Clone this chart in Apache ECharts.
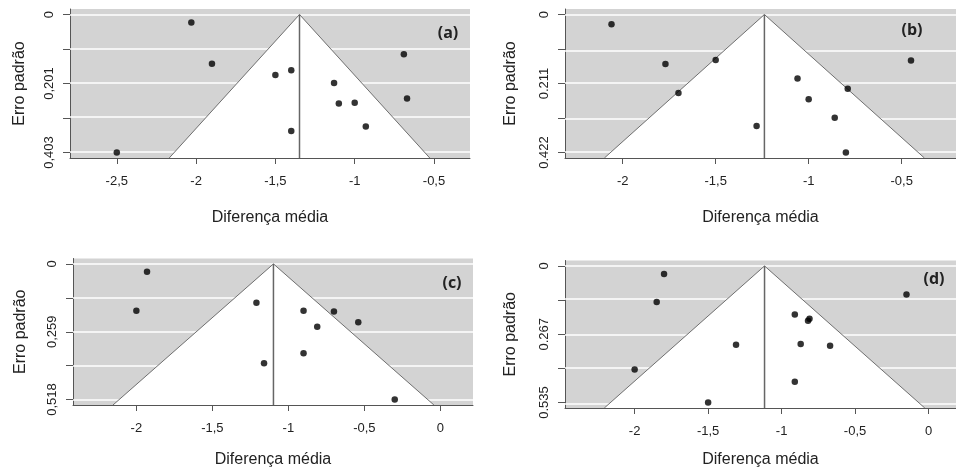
<!DOCTYPE html>
<html>
<head>
<meta charset="utf-8">
<script src="https://cdn.jsdelivr.net/npm/echarts@6/dist/echarts.min.js"></script>
<style>
  html, body { margin: 0; padding: 0; background: #fff; }
  #chart { width: 956px; height: 469px; }
</style>
</head>
<body>
<div id="chart"></div>
<script>
// painel (a)
var xA = [-2.03, -1.90, -1.50, -1.40, -1.13, -0.69, -0.67, -1.10, -1.00, -0.93, -1.40, -2.50]
var seA = [0.023, 0.144, 0.177, 0.163, 0.200, 0.116, 0.245, 0.260, 0.258, 0.327, 0.340, 0.403]
var estA = -1.348
// painel (b)
var xB = [-2.06, -1.77, -1.50, -1.70, -1.28, -1.06, -0.79, -1.00, -0.86, -0.80, -0.45]
var seB = [0.030, 0.151, 0.139, 0.240, 0.341, 0.196, 0.227, 0.259, 0.316, 0.422, 0.141]
var estB = -1.238
// painel (c)
var xC = [-1.93, -2.00, -1.21, -0.90, -0.70, -0.54, -0.81, -0.90, -1.16, -0.30]
var seC = [0.030, 0.179, 0.148, 0.179, 0.182, 0.223, 0.240, 0.341, 0.379, 0.518]
var estC = -1.098
// painel (d)
var xD = [-1.80, -1.85, -0.15, -0.91, -0.81, -0.82, -1.31, -0.87, -0.67, -2.00, -0.91, -1.50]
var seD = [0.031, 0.141, 0.112, 0.190, 0.207, 0.215, 0.309, 0.306, 0.313, 0.406, 0.454, 0.535]
var estD = -1.116

// ticks
var yTicksA = [0, 0.10075, 0.2015, 0.30225, 0.403]
var yLabelsA = ['0', '0,201', '0,403']
var yTicksB = [0, 0.1055, 0.211, 0.3165, 0.422]
var yLabelsB = ['0', '0.211', '0.422']
var yTicksC = [0, 0.1295, 0.259, 0.3885, 0.518]
var yLabelsC = ['0', '0,259', '0,518']
var yTicksD = [0, 0.13375, 0.2675, 0.40125, 0.535]
var yLabelsD = ['0', '0.267', '0.535']
var xTicksA = [-2.5, -2, -1.5, -1, -0.5]
var xTicksB = [-2, -1.5, -1, -0.5]
var xTicksC = [-2, -1.5, -1, -0.5, 0]
var xTicksD = [-2, -1.5, -1, -0.5, 0]
var panelNames = ['(a)', '(b)', '(c)', '(d)']

var panels = [
  {x: xA, se: seA, est: estA, yTicks: yTicksA, yLabels: yLabelsA, xTicks: xTicksA,
    grid: {left: 70, top: 9, width: 400, height: 149}, xr: [-2.795, -0.273], yr: [-0.0161, 0.4191],
    xGap: 52, yGap: 42, tag: [448, 33]},
  {x: xB, se: seB, est: estB, yTicks: yTicksB, yLabels: yLabelsB, xTicks: xTicksB,
    grid: {left: 565, top: 9, width: 391, height: 149}, xr: [-2.310, -0.208], yr: [-0.0169, 0.4389],
    xGap: 52, yGap: 46, tag: [912, 30]},
  {x: xC, se: seC, est: estC, yTicks: yTicksC, yLabels: yLabelsC, xTicks: xTicksC,
    grid: {left: 73, top: 258.5, width: 400, height: 149}, xr: [-2.417, 0.215], yr: [-0.0207, 0.5387],
    xGap: 47, yGap: 44, tag: [452, 283]},
  {x: xD, se: seD, est: estD, yTicks: yTicksD, yLabels: yLabelsD, xTicks: xTicksD,
    grid: {left: 565, top: 260.5, width: 391, height: 149}, xr: [-2.474, 0.187], yr: [-0.0214, 0.5564],
    xGap: 44, yGap: 46, tag: [934, 279]}
]

var FONT = '"Liberation Sans", Arial, sans-serif'
var grids = [], xAxes = [], yAxes = [], series = [], graphics = []

function fmtComma (v) {
  return String(v).replace('.', ',')
}

panels.forEach(function (p, i) {
  grids.push({
    left: p.grid.left, top: p.grid.top, width: p.grid.width, height: p.grid.height,
    show: true, backgroundColor: '#d3d3d3', borderWidth: 0
  })
  xAxes.push({
    type: 'value', gridIndex: i, min: p.xr[0], max: p.xr[1],
    name: 'Diferença média', nameLocation: 'middle', nameGap: p.xGap,
    nameTextStyle: {fontFamily: FONT, fontSize: 16, color: '#222'},
    axisLine: {onZero: false, lineStyle: {color: '#555', width: 1}},
    axisTick: {show: true, length: 6, lineStyle: {color: '#555'}, customValues: p.xTicks},
    axisLabel: {customValues: p.xTicks, margin: 17, fontFamily: FONT, fontSize: 13, color: '#222', formatter: fmtComma},
    splitLine: {show: false}
  })
  var labelVals = [p.yTicks[0], p.yTicks[2], p.yTicks[4]]
  yAxes.push({
    type: 'value', gridIndex: i, inverse: true, min: p.yr[0], max: p.yr[1],
    name: 'Erro padrão', nameLocation: 'middle', nameGap: p.yGap,
    nameTextStyle: {fontFamily: FONT, fontSize: 16, color: '#222'},
    axisLine: {show: true, onZero: false, lineStyle: {color: '#555', width: 1}},
    axisTick: {show: true, length: 7, lineStyle: {color: '#555'}, customValues: p.yTicks},
    axisLabel: {
      customValues: labelVals, rotate: 90, margin: 14, fontFamily: FONT, fontSize: 13, color: '#222',
      formatter: function (v) {
        var k = labelVals.indexOf(v)
        return k >= 0 ? p.yLabels[k] : ''
      }
    },
    splitLine: {show: false}
  })
  // linhas de grade brancas
  series.push({
    type: 'scatter', xAxisIndex: i, yAxisIndex: i, data: [], z: 1, silent: true,
    markLine: {
      z: 1, symbol: 'none', silent: true, animation: false, label: {show: false},
      lineStyle: {color: '#ffffff', width: 1.5, type: 'solid'},
      data: p.yTicks.map(function (v) { return {yAxis: v} })
    }
  })
  // funil
  series.push({
    type: 'custom', xAxisIndex: i, yAxisIndex: i, z: 2, silent: true, clip: true,
    data: [[p.est, p.yr[1]]],
    renderItem: function (params, api) {
      var est = api.value(0)
      var yb = api.value(1)
      var top = api.coord([est, 0])
      var bl = api.coord([est - 1.96 * yb, yb])
      var br = api.coord([est + 1.96 * yb, yb])
      return {
        type: 'group',
        children: [
          {type: 'polygon', shape: {points: [top, bl, br]}, style: {fill: '#ffffff'}},
          {type: 'polyline', shape: {points: [bl, top, br]}, style: {stroke: '#6f6f6f', lineWidth: 1, fill: null}},
          {type: 'line', shape: {x1: top[0], y1: top[1], x2: top[0], y2: bl[1]}, style: {stroke: '#666', lineWidth: 1.5}}
        ]
      }
    }
  })
  // estudos
  series.push({
    type: 'scatter', xAxisIndex: i, yAxisIndex: i, z: 5,
    symbol: 'circle', symbolSize: 6.5, itemStyle: {color: '#000'},
    data: p.x.map(function (v, k) { return [v, p.se[k]] })
  })
  graphics.push({
    type: 'text', x: p.tag[0], y: p.tag[1], z: 10,
    style: {text: panelNames[i], font: 'bold 16px "Open Sans", Arial, sans-serif', fill: '#222', align: 'center', verticalAlign: 'middle'}
  })
})

var chart = echarts.init(document.getElementById('chart'))
chart.setOption({
  animation: false,
  grid: grids,
  xAxis: xAxes,
  yAxis: yAxes,
  series: series,
  graphic: graphics
})
</script>
</body>
</html>
